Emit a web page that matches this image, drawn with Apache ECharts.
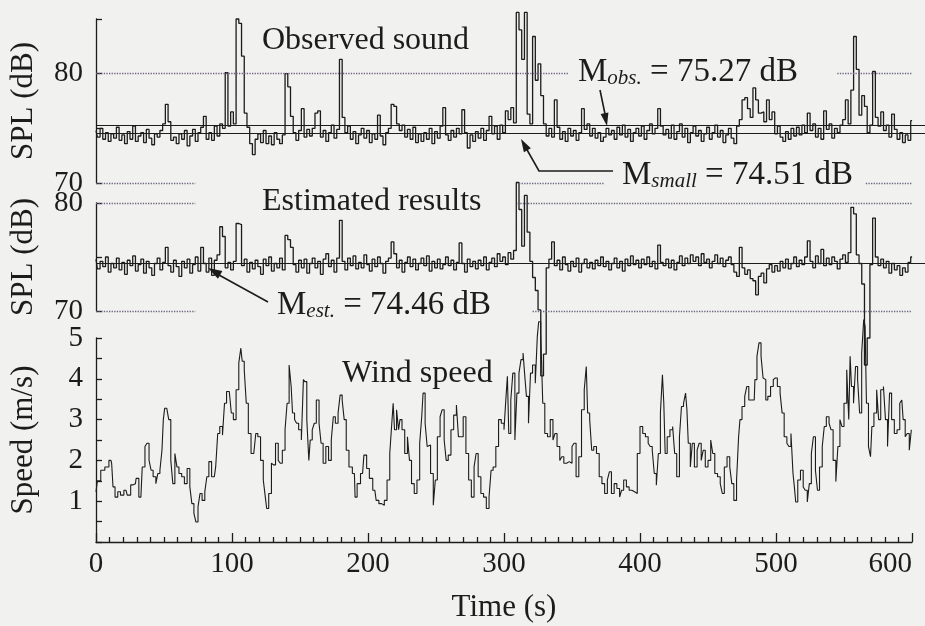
<!DOCTYPE html>
<html>
<head>
<meta charset="utf-8">
<script src="https://cdn.jsdelivr.net/npm/echarts@6/dist/echarts.min.js"></script>
<style>
html, body { margin: 0; padding: 0; background: #f1f1ef; }
#plot { width: 925px; height: 626px; }
</style>
</head>
<body>
<div id="plot"></div>
<script>
// SPL traces are read every 2 s (0 .. 600 s)
var splStep = 2;

// observed sound, dB
var observed = [
  74.8, 74.2, 75.0, 74.0, 74.6, 73.8, 74.5, 74.1, 75.1, 73.9,
  74.4, 73.6, 74.7, 74.0, 75.2, 73.8, 74.3, 74.6, 73.7, 74.9,
  74.1, 73.5, 74.5, 74.2, 74.8, 75.4, 77.2, 75.6, 73.9, 74.2,
  73.6, 74.5, 74.0, 74.8, 73.4, 74.3, 74.9, 73.8, 74.6, 75.1,
  76.1, 74.0, 74.6, 73.9, 75.2, 74.3, 75.4, 75.0, 80.1, 75.2,
  76.5, 75.4, 85.0, 84.6, 81.6, 76.4, 75.1, 73.6, 72.6, 74.0,
  74.5, 73.7, 74.8, 73.6, 74.3, 73.5, 74.6, 74.0, 73.6, 74.4,
  80.0, 78.8, 76.1, 74.6, 73.9, 74.8, 76.8, 74.2, 74.9, 74.3,
  75.0, 76.4, 76.6, 74.2, 74.8, 73.8, 74.6, 75.3, 74.1, 74.9,
  81.3, 76.0, 74.6, 75.2, 74.0, 74.7, 73.6, 74.4, 75.0, 74.1,
  74.8, 73.7, 74.5, 74.0, 76.2, 74.3, 73.5, 74.6, 75.0, 77.2,
  77.0, 75.4, 74.8, 75.3, 74.2, 74.9, 74.0, 75.1, 73.7, 74.5,
  73.8, 74.6, 74.0, 75.0, 73.6, 74.7, 74.1, 75.2, 76.9, 74.4,
  73.9, 74.8, 74.2, 75.0, 74.5, 76.7, 74.6, 73.2, 74.4, 73.8,
  74.7, 74.1, 75.0, 73.9, 74.8, 76.1, 74.5, 75.2, 74.0, 75.3,
  74.6, 76.6, 75.8, 76.9, 75.5, 85.6, 84.0, 81.3, 85.6, 76.3,
  75.4, 83.4, 79.4, 80.9, 78.0, 75.4, 74.3, 75.0, 74.2, 77.6,
  75.1, 74.0, 74.7, 73.8, 75.0, 74.3, 74.8, 73.9, 74.6, 76.8,
  74.9, 75.4, 74.3, 75.0, 74.1, 74.6, 73.8, 74.2, 75.0, 74.4,
  74.8, 74.0, 75.1, 74.4, 75.3, 74.2, 74.9, 73.8, 74.6, 75.0,
  74.3, 75.2, 74.0, 74.8, 75.4, 74.5, 75.0, 76.8, 75.2, 74.4,
  74.9, 74.1, 75.3, 74.0, 74.7, 75.4, 74.2, 75.0, 73.7, 74.6,
  75.2, 74.3, 74.8, 73.8, 74.5, 75.1, 74.0, 74.6, 75.3, 74.2,
  74.8, 73.7, 74.4, 75.0, 74.1, 73.6, 75.2, 75.8, 77.6, 77.8,
  76.8, 76.0, 78.7, 77.6, 76.4, 76.5, 75.6, 77.6, 75.8, 76.5,
  74.5, 75.2, 74.2, 73.8, 74.7, 74.0, 75.0, 74.3, 75.1, 74.4,
  75.3, 74.6, 76.4, 74.8, 75.4, 74.2, 75.0, 74.0, 76.6, 74.9,
  75.4, 74.1, 75.0, 74.6, 75.3, 75.8, 77.6, 75.4, 78.5, 83.4,
  80.4, 76.2, 78.0, 77.0, 74.6, 75.3, 80.2, 76.0, 75.2, 76.5,
  74.8, 75.3, 74.2, 76.3, 74.9, 74.0, 74.6, 73.7, 74.4, 73.9,
  75.7
];

// estimated results, dB
var estimated = [
  74.8, 73.9, 74.6, 74.1, 75.0, 73.6, 74.4, 74.0, 74.9, 73.8,
  74.5, 73.4, 74.7, 74.2, 75.1, 73.7, 74.3, 74.8, 73.5, 74.6,
  74.0, 73.3, 74.4, 74.9, 73.8, 74.5, 75.9, 74.2, 73.6, 74.7,
  74.1, 73.2, 74.6, 74.0, 74.8, 73.5, 74.3, 75.0, 73.7, 75.9,
  74.4, 73.6, 74.9, 73.3, 74.7, 75.2, 77.8, 76.9, 74.0, 74.5,
  73.8, 74.6, 78.1, 78.0, 74.2, 74.8, 73.6, 74.5, 73.9, 74.7,
  74.1, 73.4, 74.8, 74.2, 75.0, 73.7, 74.4, 74.0, 74.9, 73.8,
  77.0, 76.6, 75.9, 74.3, 73.6, 74.7, 74.0, 74.8, 73.5, 74.4,
  74.9, 74.0, 74.6, 73.4, 74.8, 75.3, 74.1, 74.7, 73.6, 74.9,
  78.4, 74.6, 73.8, 74.9, 74.2, 75.1, 73.9, 74.5, 74.0, 75.2,
  74.3, 73.7, 74.8, 74.1, 75.0, 74.4, 73.5, 74.6, 74.9, 76.4,
  75.3, 74.0, 74.7, 73.6, 74.5, 75.0, 74.1, 74.8, 73.8, 74.4,
  74.9, 74.2, 75.1, 73.7, 74.6, 74.0, 74.8, 73.9, 74.3, 75.0,
  74.2, 74.7, 73.8, 74.5, 76.3, 74.4, 73.6, 74.8, 74.1, 74.6,
  73.9, 74.7, 74.2, 75.0, 73.8, 74.5, 74.9, 74.1, 75.3, 74.6,
  75.0, 74.3, 75.4, 74.8, 75.6, 81.9, 79.4, 76.0, 80.7, 77.3,
  74.6, 73.1, 71.9, 70.1, 64.0, 66.0, 74.0, 74.8, 76.4, 74.2,
  74.7, 73.8, 75.0, 74.3, 73.7, 74.6, 74.1, 74.9, 73.6, 74.4,
  74.8, 74.0, 74.5, 73.9, 74.7, 74.2, 75.0, 74.1, 74.6, 73.8,
  74.4, 74.9, 74.0, 74.6, 73.7, 74.8, 74.2, 75.1, 74.3, 74.7,
  74.0, 74.8, 74.3, 75.0, 74.1, 74.6, 73.9, 76.1, 74.5, 74.2,
  74.8, 74.0, 74.7, 73.8, 74.5, 75.1, 74.2, 74.9, 74.4, 75.2,
  74.6, 75.0, 74.2, 75.3, 74.5, 74.8, 74.0, 74.6, 75.2, 74.4,
  74.9, 74.1, 74.7, 75.0, 74.3, 73.6, 73.2, 75.9, 74.0, 73.4,
  73.8, 73.0, 72.8, 71.5, 73.2, 73.5, 72.6, 73.9, 74.3, 73.6,
  74.2, 73.7, 74.6, 74.0, 74.8, 73.9, 74.4, 75.0, 74.1, 74.7,
  74.3, 75.0, 76.5, 74.6, 74.0, 75.1, 74.4, 75.7, 74.2, 74.9,
  74.3, 75.0, 74.6, 73.9, 74.8, 75.2, 74.5, 75.4, 79.6, 79.0,
  75.2, 74.4, 72.5, 65.0, 67.5, 74.3, 78.6, 75.0, 74.2, 74.8,
  74.0, 74.6, 73.5, 74.4, 73.8, 74.2, 73.3, 74.0, 73.6, 74.5,
  75.0
];

// wind speed, m/s (time stamps in s)
var windTime = [
  0, 2, 5, 8, 11, 12, 13, 15, 17, 19, 22, 24, 27, 29, 30, 33, 35, 37, 38, 40,
  41, 43, 45, 46, 48, 49, 50, 51, 53, 54, 56, 57, 59, 60, 62, 64, 66, 68, 70, 71,
  73, 74, 76, 77, 79, 81, 82, 84, 86, 87, 89, 90, 92, 94, 95, 97, 99, 100, 102, 104,
  106, 107, 108, 110, 111, 113, 115, 117, 118, 120, 122, 124, 125, 126, 128, 130, 131, 133, 135, 136,
  138, 140, 141, 143, 144, 145, 147, 148, 150, 152, 153, 154, 156, 157, 158, 160, 161, 163, 165, 166,
  168, 170, 172, 174, 175, 177, 179, 180, 182, 183, 185, 187, 190, 191, 193, 196, 198, 200, 202, 205,
  207, 209, 211, 213, 215, 217, 218, 219, 220, 222, 223, 224, 226, 228, 230, 231, 233, 235, 237, 239,
  240, 241, 243, 244, 245, 247, 249, 250, 252, 254, 255, 257, 258, 260, 262, 264, 266, 267, 269, 271,
  273, 275, 277, 279, 280, 282, 284, 286, 288, 290, 291, 293, 295, 297, 299, 301, 302, 303, 304, 306,
  307, 309, 310, 312, 313, 315, 316, 317, 319, 320, 322, 324, 325, 326, 328, 329, 331, 333, 335, 337,
  338, 340, 342, 343, 345, 347, 349, 351, 352, 354, 356, 358, 360, 361, 362, 364, 365, 367, 369, 371,
  373, 375, 377, 378, 380, 382, 384, 386, 387, 389, 391, 393, 395, 397, 399, 401, 403, 405, 407, 408,
  410, 411, 413, 414, 416, 417, 418, 419, 421, 423, 425, 426, 428, 430, 431, 433, 434, 435, 436, 438,
  439, 441, 443, 444, 446, 447, 449, 451, 453, 454, 456, 458, 460, 461, 463, 465, 467, 468, 470, 472,
  473, 474, 476, 478, 479, 481, 482, 484, 485, 487, 488, 490, 491, 492, 493, 495, 497, 499, 500, 502,
  504, 505, 507, 509, 510, 512, 513, 514, 515, 517, 519, 521, 522, 524, 525, 527, 528, 530, 531, 533,
  535, 536, 538, 540, 541, 543, 545, 546, 548, 549, 551, 553, 554, 555, 556, 558, 559, 561, 562, 564,
  565, 566, 567, 569, 570, 571, 573, 575, 576, 578, 580, 581, 583, 584, 586, 588, 590, 592, 593, 594,
  596, 597, 599, 600
];
var windSpeed = [
  1.23, 1.50, 1.76, 1.84, 2.00, 1.93, 1.35, 1.10, 1.23, 1.15, 1.27, 1.15, 1.40, 1.43, 1.56, 1.10, 1.84, 2.34, 2.42, 2.00,
  1.76, 1.60, 1.43, 1.68, 1.76, 2.25, 3.00, 3.28, 3.24, 3.00, 2.00, 1.43, 2.17, 1.84, 1.68, 1.60, 1.43, 1.80, 1.35, 0.94,
  0.70, 0.49, 0.86, 1.19, 1.02, 1.23, 1.60, 1.97, 1.60, 1.60, 1.84, 2.66, 2.83, 2.62, 3.40, 3.69, 3.69, 3.16, 3.00, 3.73,
  4.39, 4.75, 4.43, 4.22, 3.40, 2.66, 2.17, 2.13, 2.66, 2.58, 2.00, 1.52, 1.10, 0.82, 1.19, 1.93, 1.89, 2.42, 2.00, 1.93,
  2.25, 2.75, 3.40, 4.34, 3.81, 3.16, 3.00, 2.91, 2.75, 2.50, 3.98, 3.93, 3.00, 2.00, 2.50, 2.75, 2.91, 3.48, 2.91, 2.42,
  1.93, 2.34, 2.00, 2.50, 3.07, 2.91, 3.16, 3.60, 3.48, 3.00, 2.25, 1.84, 1.68, 1.10, 1.43, 1.68, 2.13, 1.80, 1.56, 1.27,
  1.02, 0.94, 0.90, 1.02, 1.52, 2.17, 2.91, 3.40, 2.75, 3.24, 2.75, 3.00, 2.75, 2.17, 2.58, 2.00, 1.43, 1.19, 1.52, 2.42,
  3.07, 3.65, 2.91, 2.34, 2.38, 1.68, 0.90, 1.52, 2.58, 3.07, 3.24, 2.50, 2.00, 2.13, 2.75, 3.11, 3.36, 2.58, 2.58, 3.07,
  2.17, 1.52, 1.10, 1.84, 2.17, 1.60, 1.19, 1.10, 0.82, 1.10, 1.76, 1.84, 2.34, 3.00, 2.91, 2.75, 3.57, 4.06, 2.66, 3.48,
  4.14, 2.50, 3.65, 4.14, 4.47, 4.63, 3.98, 3.57, 2.91, 4.14, 4.34, 3.89, 5.04, 5.40, 5.12, 3.40, 2.66, 2.58, 3.00, 2.50,
  2.66, 2.34, 2.00, 2.09, 1.93, 1.97, 1.93, 2.34, 2.42, 1.60, 2.09, 3.24, 3.73, 4.30, 3.16, 3.00, 2.25, 2.34, 2.17, 1.60,
  1.43, 1.19, 1.52, 1.72, 1.19, 1.43, 1.31, 1.10, 1.27, 1.52, 1.35, 1.27, 1.23, 1.19, 2.17, 2.83, 2.66, 2.58, 2.42, 2.34,
  2.25, 1.68, 1.39, 2.17, 3.16, 4.10, 3.40, 2.17, 2.58, 2.75, 2.83, 2.17, 1.60, 2.58, 3.32, 3.40, 3.65, 3.24, 2.42, 1.84,
  2.42, 1.84, 2.25, 2.42, 2.00, 2.25, 1.84, 2.00, 2.50, 2.17, 1.68, 1.60, 1.43, 1.19, 1.84, 2.09, 1.84, 1.43, 1.02, 1.52,
  2.58, 3.00, 3.32, 3.57, 3.81, 3.48, 3.48, 3.48, 3.98, 4.55, 4.88, 4.55, 4.02, 3.98, 3.48, 3.57, 3.81, 3.98, 4.02, 3.81,
  3.65, 3.16, 2.58, 2.42, 2.34, 2.66, 1.68, 1.35, 0.98, 1.52, 1.76, 1.35, 1.27, 0.98, 1.43, 2.17, 2.58, 1.76, 1.27, 1.84,
  2.34, 2.83, 3.07, 2.91, 2.75, 2.00, 1.48, 2.34, 3.00, 2.83, 3.40, 4.22, 3.00, 4.55, 3.81, 3.40, 4.30, 3.98, 3.16, 4.63,
  5.45, 5.29, 3.40, 2.34, 2.09, 2.83, 3.16, 3.73, 3.00, 3.73, 3.81, 3.00, 2.34, 3.65, 3.00, 2.66, 2.75, 3.40, 3.48, 3.00,
  2.58, 2.66, 2.25, 2.75
];

// mean levels, dB
var meanObs = 75.27;
var meanSmall = 74.51;
var meanEst = 74.46;

var FONT = 'Liberation Serif';
var INK = '#1c1c1c';
var DOTS = '#6e6280';
// the SPL panels run on to the right edge, the time axis stops at 600 s
var SPL_XMAX = 609.5;

function toPairs(values) {
  return values.map(function (v, i) { return [i * splStep, v]; });
}
var windData = windTime.map(function (t, i) { return [t, windSpeed[i]]; });

function dotted(y, from, to) {
  return [{ coord: [from, y] }, { coord: [to, y] }];
}
function meanLine(y) {
  return [{ coord: [0, y], lineStyle: { type: 'solid', color: INK, width: 1.2 } },
          { coord: [SPL_XMAX, y] }];
}

var myChart = echarts.init(document.getElementById('plot'));

var axisLineStyle = { color: INK, width: 1.3 };

function yAxisFor(grid, min, max, interval, name, shown) {
  return {
    gridIndex: grid, type: 'value', min: min, max: max, interval: interval,
    name: name, nameLocation: 'middle', nameGap: 57,
    nameTextStyle: { fontFamily: FONT, fontSize: 31, color: INK },
    axisLine: { show: true, lineStyle: axisLineStyle },
    axisTick: { show: true, inside: true, length: 6, lineStyle: axisLineStyle },
    axisLabel: {
      fontFamily: FONT, fontSize: 29, color: INK, margin: 13,
      formatter: function (v) { return shown.indexOf(v) >= 0 ? String(v) : ''; }
    },
    splitLine: { show: false }
  };
}

var spY2 = yAxisFor(2, 0, 5, 1, 'Speed (m/s)', [1, 2, 3, 4, 5]);
spY2.minorTick = { show: true, splitNumber: 2, length: 6, lineStyle: axisLineStyle };

var textStyleBig = { fontFamily: FONT, fontSize: 32, fill: INK };
function meanRich() {
  return {
    a: { fontFamily: FONT, fontSize: 33, fill: INK, lineHeight: 33 },
    b: { fontFamily: FONT, fontSize: 21, fontStyle: 'italic', fill: INK, lineHeight: 15, verticalAlign: 'bottom' }
  };
}

var option = {
  backgroundColor: '#f1f1ef',
  animation: false,
  grid: [
    { left: 96, right: 0, top: 19, height: 164, outerBoundsMode: 'none', containLabel: false },
    { left: 96, right: 0, top: 203, height: 108, outerBoundsMode: 'none', containLabel: false },
    { left: 96, right: 13, top: 338, height: 204, outerBoundsMode: 'none', containLabel: false }
  ],
  xAxis: [
    { gridIndex: 0, type: 'value', min: 0, max: SPL_XMAX, show: false },
    { gridIndex: 1, type: 'value', min: 0, max: SPL_XMAX, show: false },
    {
      gridIndex: 2, type: 'value', min: 0, max: 600, interval: 100,
      name: 'Time (s)', nameLocation: 'middle', nameGap: 50,
      nameTextStyle: { fontFamily: FONT, fontSize: 31, color: INK },
      axisLine: { lineStyle: axisLineStyle },
      axisTick: { inside: true, length: 9, lineStyle: axisLineStyle },
      minorTick: { show: true, splitNumber: 10, length: 5, lineStyle: axisLineStyle },
      axisLabel: { fontFamily: FONT, fontSize: 29, color: INK, margin: 8, alignMaxLabel: 'right' },
      splitLine: { show: false }
    }
  ],
  yAxis: [
    yAxisFor(0, 70, 85, 5, 'SPL (dB)', [70, 80]),
    yAxisFor(1, 70, 80, 5, 'SPL (dB)', [70, 80]),
    spY2
  ],
  series: [
    {
      name: 'Observed sound', type: 'line', xAxisIndex: 0, yAxisIndex: 0,
      data: toPairs(observed), step: 'middle', showSymbol: false, clip: false,
      lineStyle: { color: INK, width: 1.3 },
      markLine: {
        silent: true, symbol: ['none', 'none'], label: { show: false },
        lineStyle: { type: 'dotted', color: DOTS, width: 1.3 },
        data: [
          dotted(80, 0, 347), dotted(80, 545, 600),
          dotted(70, 0, 73), dotted(70, 311, 374), dotted(70, 566, 600),
          meanLine(meanObs), meanLine(meanSmall)
        ]
      }
    },
    {
      name: 'Estimated results', type: 'line', xAxisIndex: 1, yAxisIndex: 1,
      data: toPairs(estimated), step: 'middle', showSymbol: false, clip: false,
      lineStyle: { color: INK, width: 1.3 },
      markLine: {
        silent: true, symbol: ['none', 'none'], label: { show: false },
        lineStyle: { type: 'dotted', color: DOTS, width: 1.3 },
        data: [
          dotted(80, 0, 73), dotted(80, 310, 600),
          dotted(70, 0, 73), dotted(70, 321, 600),
          meanLine(meanEst)
        ]
      }
    },
    {
      name: 'Wind speed', type: 'line', xAxisIndex: 2, yAxisIndex: 2,
      data: windData, step: 'middle', showSymbol: false, clip: false,
      lineStyle: { color: INK, width: 1.1 }
    }
  ],
  graphic: [
    { type: 'text', z: 100, style: Object.assign({ x: 262, y: 41, text: 'Observed sound', verticalAlign: 'middle' }, textStyleBig) },
    { type: 'text', z: 100, style: Object.assign({ x: 262, y: 202, text: 'Estimated results', verticalAlign: 'middle' }, textStyleBig) },
    { type: 'text', z: 100, style: Object.assign({ x: 342, y: 374, text: 'Wind speed', verticalAlign: 'middle' }, textStyleBig) },
    { type: 'text', z: 100, style: { x: 578, y: 72, verticalAlign: 'middle', text: '{a|M}{b|obs.}{a| = 75.27 dB}', rich: meanRich() } },
    { type: 'text', z: 100, style: { x: 622, y: 175, verticalAlign: 'middle', text: '{a|M}{b|small}{a| = 74.51 dB}', rich: meanRich() } },
    { type: 'text', z: 100, style: { x: 277, y: 305, verticalAlign: 'middle', text: '{a|M}{b|est.}{a| = 74.46 dB}', rich: meanRich() } },
    // arrows
    { type: 'polyline', z: 100, shape: { points: [[600, 90], [605, 114]] }, style: { stroke: INK, lineWidth: 1.6, fill: null } },
    { type: 'polygon', z: 100, shape: { points: [[607, 126], [608.4, 112.5], [600.6, 114.1]] }, style: { fill: INK } },
    { type: 'polyline', z: 100, shape: { points: [[526, 148], [539, 171], [613, 171]] }, style: { stroke: INK, lineWidth: 1.6, fill: null } },
    { type: 'polygon', z: 100, shape: { points: [[521, 139], [523.9, 152.3], [530.9, 148.3]] }, style: { fill: INK } },
    { type: 'polyline', z: 100, shape: { points: [[268, 302], [219, 275]] }, style: { stroke: INK, lineWidth: 1.6, fill: null } },
    { type: 'polygon', z: 100, shape: { points: [[208, 268], [218.0, 278.8], [222.4, 271.0]] }, style: { fill: INK } }
  ]
};

myChart.setOption(option);
</script>
</body>
</html>
